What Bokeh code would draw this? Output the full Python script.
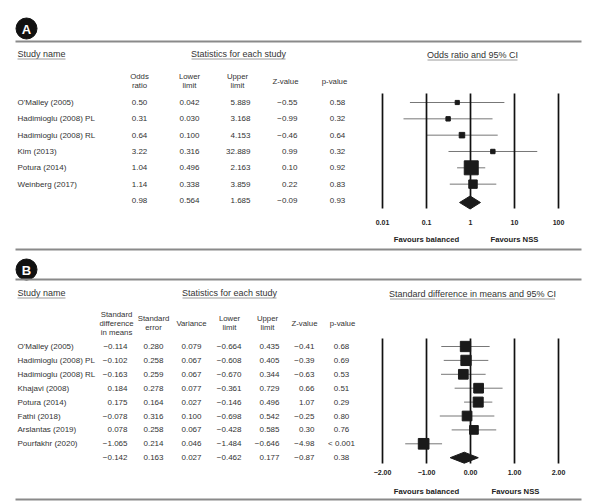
from bokeh.plotting import figure
from bokeh.models import Range1d, LogScale
from bokeh.core.properties import value
from bokeh.embed import file_html
from bokeh.resources import INLINE

# ---------------- data: panel A (odds ratio) ----------------
A_studies = ["O'Malley (2005)", "Hadimioglu (2008) PL", "Hadimioglu (2008) RL",
             "Kim (2013)", "Potura (2014)", "Weinberg (2017)"]
A_or = [0.50, 0.31, 0.64, 3.22, 1.04, 1.14]
A_lower = [0.042, 0.030, 0.100, 0.316, 0.496, 0.338]
A_upper = [5.889, 3.168, 4.153, 32.889, 2.163, 3.859]
A_z = [-0.55, -0.99, -0.46, 0.99, 0.10, 0.22]
A_p = [0.58, 0.32, 0.64, 0.32, 0.92, 0.83]
A_weight = [4.9, 5.5, 8.6, 5.5, 55.3, 20.2]          # relative weight (%)
A_pool_or, A_pool_lower, A_pool_upper, A_pool_z, A_pool_p = 0.98, 0.564, 1.685, -0.09, 0.93
A_ticks = [0.01, 0.1, 1, 10, 100]
A_tick_labels = ["0.01", "0.1", "1", "10", "100"]

# ---------------- data: panel B (standard difference in means) ----------------
B_studies = ["O'Malley (2005)", "Hadimioglu (2008) PL", "Hadimioglu (2008) RL",
             "Khajavi (2008)", "Potura (2014)", "Fathi (2018)", "Arslantas (2019)",
             "Pourfakhr (2020)"]
B_smd = [-0.114, -0.102, -0.163, 0.184, 0.175, -0.078, 0.078, -1.065]
B_se = [0.280, 0.258, 0.259, 0.278, 0.164, 0.316, 0.258, 0.214]
B_var = [0.079, 0.067, 0.067, 0.077, 0.027, 0.100, 0.067, 0.046]
B_lower = [-0.664, -0.608, -0.670, -0.361, -0.146, -0.698, -0.428, -1.484]
B_upper = [0.435, 0.405, 0.344, 0.729, 0.496, 0.542, 0.585, -0.646]
B_z = [-0.41, -0.39, -0.63, 0.66, 1.07, -0.25, 0.30, -4.98]
B_p = ["0.68", "0.69", "0.53", "0.51", "0.29", "0.80", "0.76", "< 0.001"]
B_weight = [13.5, 13.5, 12.0, 12.0, 12.8, 12.0, 9.7, 14.5]   # relative weight (%)
B_pool = dict(smd=-0.142, se=0.163, var=0.027, lower=-0.462, upper=0.177, z=-0.87, p="0.38")
B_ticks = [-2, -1, 0, 1, 2]

FONT = value("Liberation Sans")
TXT = "#333333"
RULE = "#8a8a8a"


def fmt(v, d):
    return f"{v:.{d}f}".replace("-", "\u2212")


W, H = 597, 502
p = figure(width=W, height=H, x_range=Range1d(0, W), y_range=Range1d(H, 0),
           x_axis_type=None, y_axis_type=None, toolbar_location=None,
           output_backend="svg", min_border=0, outline_line_color=None)
p.background_fill_color = "white"
p.border_fill_color = "white"
# forest axes: 44 px per decade / unit, centre line at x = 470
ppu, x0pix = 44.0, 470.0
lo, hi = -x0pix / ppu, (W - x0pix) / ppu
p.extra_x_scales = {"A": LogScale()}
p.extra_x_ranges = {"A": Range1d(10 ** lo, 10 ** hi), "B": Range1d(lo, hi)}


def txt(x, y, s, size="8px", align="left", bold=False, color=TXT, xr="default"):
    if not isinstance(x, list):
        x, y, s = [x], [y], [s]
    if not isinstance(y, list):
        y = [y] * len(x)
    p.text(x=x, y=y, text=s, text_font=FONT, text_font_size=size, text_align=align,
           text_baseline="middle", text_color=color,
           text_font_style="bold" if bold else "normal", x_range_name=xr)


def rule(y):
    p.segment(x0=[15], y0=[y], x1=[581], y1=[y], line_color=RULE, line_width=1.8)


def underline(xc, y, w, align="center"):
    xs = xc - w / 2 if align == "center" else xc
    p.segment(x0=[xs], y0=[y], x1=[xs + w], y1=[y], line_color="#9a9a9a", line_width=1)


def badge(y, letter):
    p.scatter(x=[26], y=[y], size=21, marker="circle", fill_color="#111111", line_color="#111111")
    txt(26, y + 0.5, letter, size="13px", align="center", bold=True, color="white")


# ================= PANEL A =================
badge(28, "A")
rule(41)
txt(17, 53, "Study name", size="9px")
underline(17, 58.5, 48, align="left")
txt(238, 53, "Statistics for each study", size="9px", align="center")
underline(238, 58.5, 94)
txt(472, 54, "Odds ratio and 95% CI", size="9px", align="center")
underline(472, 59.5, 90)

for xc, l1, l2 in [(139, "Odds", "ratio"), (189, "Lower", "limit"), (237, "Upper", "limit")]:
    txt(xc, 76, l1, size="7.8px", align="center")
    txt(xc, 85, l2, size="7.8px", align="center")
txt(285, 80.5, "Z-value", size="7.8px", align="center")
txt(334, 80.5, "p-value", size="7.8px", align="center")

nA = len(A_studies)
A_y = [102 + i * 16.33 for i in range(nA + 1)]
txt([17] * nA, A_y[:nA], A_studies)
txt([139] * (nA + 1), A_y, [fmt(v, 2) for v in A_or + [A_pool_or]], align="center")
txt([189] * (nA + 1), A_y, [fmt(v, 3) for v in A_lower + [A_pool_lower]], align="center")
txt([250] * (nA + 1), A_y, [fmt(v, 3) for v in A_upper + [A_pool_upper]], align="right")
txt([297] * (nA + 1), A_y, [fmt(v, 2) for v in A_z + [A_pool_z]], align="right")
txt([337] * (nA + 1), A_y, [fmt(v, 2) for v in A_p + [A_pool_p]], align="center")

# forest A
p.segment(x0=A_lower, y0=A_y[:nA], x1=A_upper, y1=A_y[:nA], line_color="#777777",
          line_width=1, x_range_name="A")
p.segment(x0=A_ticks, y0=[93] * 5, x1=A_ticks, y1=[208] * 5, line_color="#111111",
          line_width=1.7, x_range_name="A")
p.scatter(x=A_or, y=A_y[:nA], size=[1.88 * w ** 0.5 for w in A_weight], marker="square",
          fill_color="#1a1a1a", line_color="#1a1a1a", x_range_name="A")
yd = 202
p.patch(x=[A_pool_lower, A_pool_or, A_pool_upper, A_pool_or], y=[yd, yd - 6.5, yd, yd + 6.5],
        fill_color="#1a1a1a", line_color="#1a1a1a", x_range_name="A")
txt(A_ticks, 222, A_tick_labels, size="7px", align="center", bold=True, color="#222222", xr="A")
txt(426, 239, "Favours balanced", size="7.7px", align="center", bold=True, color="#222222")
txt(514, 239, "Favours NSS", size="7.7px", align="center", bold=True, color="#222222")
rule(249)

# ================= PANEL B =================
badge(269, "B")
rule(279)
txt(17, 292, "Study name", size="9px")
underline(17, 297.5, 48, align="left")
txt(229, 292, "Statistics for each study", size="9px", align="center")
underline(229, 297.5, 94)
txt(472, 293, "Standard difference in means and 95% CI", size="9px", align="center")
underline(472, 298.5, 165)

txt(116, 314, "Standard", size="7.8px", align="center")
txt(116, 323, "difference", size="7.8px", align="center")
txt(116, 332, "in means", size="7.8px", align="center")
for xc, l1, l2 in [(153, "Standard", "error"), (229, "Lower", "limit"), (267, "Upper", "limit")]:
    txt(xc, 318, l1, size="7.8px", align="center")
    txt(xc, 327, l2, size="7.8px", align="center")
txt(191, 323, "Variance", size="7.8px", align="center")
txt(304, 323, "Z-value", size="7.8px", align="center")
txt(342, 323, "p-value", size="7.8px", align="center")

nB = len(B_studies)
B_y = [346 + i * 13.9 for i in range(nB + 1)]
txt([17] * nB, B_y[:nB], B_studies)
txt([127] * (nB + 1), B_y, [fmt(v, 3) for v in B_smd + [B_pool["smd"]]], align="right")
txt([153] * (nB + 1), B_y, [fmt(v, 3) for v in B_se + [B_pool["se"]]], align="center")
txt([191] * (nB + 1), B_y, [fmt(v, 3) for v in B_var + [B_pool["var"]]], align="center")
txt([241] * (nB + 1), B_y, [fmt(v, 3) for v in B_lower + [B_pool["lower"]]], align="right")
txt([279] * (nB + 1), B_y, [fmt(v, 3) for v in B_upper + [B_pool["upper"]]], align="right")
txt([314] * (nB + 1), B_y, [fmt(v, 2) for v in B_z + [B_pool["z"]]], align="right")
txt([341] * (nB + 1), B_y, B_p + [B_pool["p"]], align="center")

# forest B
p.segment(x0=B_lower, y0=B_y[:nB], x1=B_upper, y1=B_y[:nB], line_color="#777777",
          line_width=1, x_range_name="B")
p.segment(x0=B_ticks, y0=[338] * 5, x1=B_ticks, y1=[463] * 5, line_color="#111111",
          line_width=1.7, x_range_name="B")
p.scatter(x=B_smd, y=B_y[:nB], size=[2.8 * w ** 0.5 for w in B_weight], marker="square",
          fill_color="#1a1a1a", line_color="#1a1a1a", x_range_name="B")
yd = B_y[nB]
p.patch(x=[B_pool["lower"], B_pool["smd"], B_pool["upper"], B_pool["smd"]],
        y=[yd, yd - 5.5, yd, yd + 5.5], fill_color="#1a1a1a", line_color="#1a1a1a",
        x_range_name="B")
txt(B_ticks, 472, [fmt(v, 2) for v in B_ticks], size="7px", align="center", bold=True,
    color="#222222", xr="B")
txt(426, 491, "Favours balanced", size="7.7px", align="center", bold=True, color="#222222")
txt(515, 491, "Favours NSS", size="7.7px", align="center", bold=True, color="#222222")
rule(499)

open("out.html", "w").write(file_html(p, INLINE))
